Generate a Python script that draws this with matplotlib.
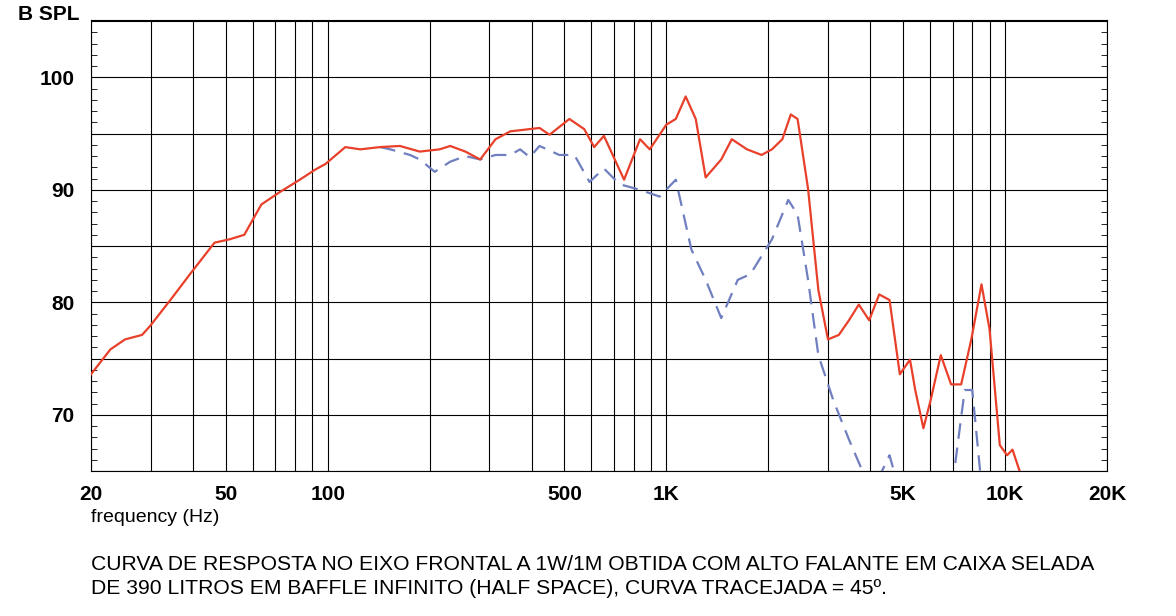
import matplotlib
matplotlib.use("Agg")
import matplotlib.pyplot as plt
from matplotlib.ticker import FixedLocator, NullFormatter, MultipleLocator
import numpy as np

red_f = [20,22.8,25.2,28.3,29.9,34.3,39.2,46.3,51.3,56.7,63.7,72.2,82.7,91.9,98.5,112.7,124.8,142.8,163.4,187,214,230,255,282,313,346,395,422,452,517,572,612,654,750,836,893,1000,1066,1140,1221,1306,1452,1560,1730,1910,2050,2200,2330,2440,2620,2810,3000,3230,3460,3700,3970,4250,4560,4890,5240,5430,5740,6030,6460,6930,7420,7950,8520,9000,9650,10140,10520,11040]
red_db = [73.6,75.8,76.7,77.1,77.9,80.2,82.5,85.3,85.6,86.0,88.7,89.8,90.9,91.8,92.3,93.8,93.6,93.8,93.9,93.4,93.6,93.9,93.4,92.7,94.5,95.2,95.4,95.5,94.9,96.3,95.4,93.8,94.8,90.9,94.5,93.6,95.8,96.3,98.3,96.3,91.1,92.7,94.5,93.6,93.1,93.6,94.5,96.7,96.3,90.1,81.1,76.7,77.1,78.4,79.8,78.4,80.7,80.2,73.6,74.9,72.2,68.8,71.3,75.3,72.7,72.7,76.7,81.6,77.6,67.3,66.4,66.9,65.0]

blue_f = [142.8,153,175,187,207,230,255,282,313,346,370,395,422,483,535,593,654,727,836,955,1066,1185,1306,1452,1625,1770,2050,2290,2440,2620,2810,3110,3460,3780,4100,4560,4900,6800,7080,7600,8000,8440,8700]
blue_db = [93.8,93.6,93.1,92.7,91.6,92.5,93.0,92.7,93.1,93.1,93.6,92.9,93.9,93.1,93.1,90.7,91.9,90.5,90.0,89.4,90.9,84.7,82.0,78.6,82.0,82.5,85.6,89.1,87.8,82.0,75.3,71.3,67.8,65.1,63.5,66.4,63,63,65,72.2,72.2,65,63]

xtick_vals = [20,50,100,500,1000,5000,10000,20000]
xtick_labels = ["20","50","100","500","1K","5K","10K","20K"]
ytick_vals = [70,80,90,100]

fig = plt.figure(figsize=(11.76,6.16), dpi=100)
ax = fig.add_axes([91/1176, 1-471/616, (1107-91)/1176, (471-20)/616])
ax.set_xscale("log")
ax.set_xlim(20,20000)
ax.set_ylim(65,105.1)

grid = [m*10**e for e in (1,2,3) for m in range(1,10)] + [10000,20000]
for g in grid:
    if 20 <= g <= 20000:
        ax.axvline(g, color="black", lw=0.8, zorder=1)
for y in range(65,106,5):
    ax.axhline(y, color="black", lw=0.8, zorder=1)

ax.plot(blue_f, blue_db, color="#6f7fbf", lw=1.6, dashes=(7,4), zorder=3)
ax.plot(red_f, red_db, color="#e8402a", lw=1.6, zorder=4)

tf = dict(fontsize=15, family="Liberation Sans", weight="bold")
ax.xaxis.set_major_locator(FixedLocator(xtick_vals))
ax.set_xticklabels(xtick_labels, **tf)
ax.xaxis.set_minor_formatter(NullFormatter())
ax.tick_params(axis="x", which="both", length=0, pad=10)
ax.set_yticks(ytick_vals)
ax.set_yticklabels([str(v) for v in ytick_vals], **tf)
ax.yaxis.set_minor_locator(MultipleLocator(1))
ax.tick_params(axis="y", which="both", direction="in", right=True, length=4, pad=12)
ax.tick_params(axis="y", which="major", length=0)
for s in ax.spines.values():
    s.set_linewidth(0.8)

fig.text(18/1176, 1-14/616, "B SPL", va="center", **tf)
fig.text(91/1176, 1-518/616, "frequency (Hz)", fontsize=14, family="Liberation Sans", va="center")
fig.text(91/1176, 1-565/616, "CURVA DE RESPOSTA NO EIXO FRONTAL A 1W/1M OBTIDA COM ALTO FALANTE EM CAIXA SELADA", fontsize=15.2, family="Liberation Sans", va="center")
fig.text(91/1176, 1-589/616, "DE 390 LITROS EM BAFFLE INFINITO (HALF SPACE), CURVA TRACEJADA = 45º.", fontsize=15.2, family="Liberation Sans", va="center")

fig.savefig("out.png", dpi=100)
